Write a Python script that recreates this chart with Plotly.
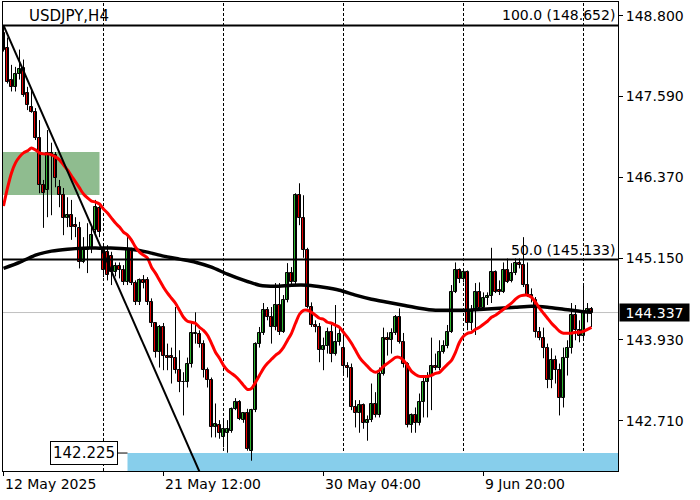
import plotly.graph_objects as go

SYMBOL = "USDJPY,H4"

OPEN = [148.54, 148.32, 147.84, 147.72, 147.93, 148.02, 147.63, 147.43, 147.35, 146.96,
        146.25, 146.18, 146.74, 146.71, 146.22, 146.10, 145.76, 145.80, 145.65, 145.61,
        145.09, 145.28, 145.31, 145.58, 145.91, 145.28, 145.25, 145.19, 144.94, 145.03,
        144.97, 144.79, 145.28, 144.78, 144.49, 144.82, 144.82, 144.49, 144.18, 143.74,
        144.12, 143.69, 143.68, 143.65, 143.47, 143.30, 143.29, 143.57, 144.01, 144.01,
        143.87, 143.47, 143.32, 142.61, 142.64, 142.46, 142.53, 142.56, 142.89, 142.99,
        142.72, 142.82, 142.26, 142.87, 143.87, 144.03, 144.37, 144.27, 144.12, 144.45,
        144.04, 144.52, 144.93, 144.79, 146.10, 145.76, 145.28, 144.42, 144.15, 144.12,
        143.77, 143.83, 144.04, 143.72, 143.89, 143.80, 143.54, 143.51, 142.91, 142.82,
        142.94, 142.67, 142.72, 142.96, 142.79, 143.42, 143.96, 143.92, 144.03, 144.27,
        143.89, 143.57, 142.64, 142.79, 142.67, 142.99, 143.29, 143.39, 143.54, 143.50,
        143.74, 143.84, 144.04, 144.64, 144.97, 144.84, 144.94, 144.18, 144.37, 144.64,
        144.40, 144.55, 144.58, 144.94, 144.67, 144.64, 144.97, 144.81, 144.93, 145.08,
        145.05, 144.75, 144.60, 144.52, 144.04, 143.96, 143.80, 143.32, 143.62, 143.47,
        143.05, 143.66, 143.80, 144.30, 144.07, 143.98, 144.34, 144.39]
HIGH = [148.652, 148.47, 148.06, 148.03, 148.29, 148.14, 147.73, 147.71, 147.41, 147.23,
        146.33, 147.08, 146.89, 146.75, 146.33, 146.21, 146.07, 146.03, 145.77, 145.70,
        145.47, 145.68, 145.62, 146.03, 145.98, 145.34, 145.35, 145.25, 145.09, 145.09,
        145.05, 145.47, 145.31, 144.82, 144.85, 144.90, 144.87, 144.55, 144.19, 144.15,
        144.18, 143.87, 143.81, 144.42, 143.77, 143.44, 143.66, 144.19, 144.34, 144.07,
        143.92, 143.51, 143.36, 142.97, 142.72, 142.72, 142.72, 142.91, 143.05, 143.02,
        142.83, 142.89, 142.89, 143.89, 144.12, 144.48, 144.42, 144.42, 144.78, 144.78,
        144.60, 145.08, 145.02, 146.13, 146.28, 146.10, 145.31, 144.49, 144.22, 144.18,
        143.96, 144.11, 144.15, 144.45, 144.10, 144.03, 143.59, 143.57, 143.02, 143.02,
        142.97, 142.79, 143.27, 143.14, 143.51, 144.11, 144.04, 144.10, 144.30, 144.40,
        144.03, 143.59, 142.82, 142.91, 143.12, 143.36, 143.44, 143.96, 143.72, 143.92,
        143.92, 144.15, 144.75, 145.09, 145.00, 145.00, 144.97, 144.45, 144.78, 144.79,
        144.64, 144.64, 145.31, 144.97, 144.82, 145.09, 145.15, 145.08, 145.15, 145.15,
        145.47, 145.09, 144.70, 144.57, 144.12, 144.11, 143.87, 143.80, 143.69, 143.57,
        143.81, 143.92, 144.48, 144.45, 144.22, 144.75, 144.48, 144.42]
LOW = [148.26, 147.78, 147.66, 147.66, 147.84, 147.58, 147.38, 147.34, 146.93, 146.13,
       145.61, 145.77, 145.80, 146.22, 145.92, 145.50, 145.62, 145.43, 145.47, 145.00,
       145.08, 144.93, 145.23, 145.53, 145.47, 144.87, 144.82, 144.75, 144.88, 144.85,
       144.75, 144.75, 144.75, 144.45, 144.45, 144.70, 144.45, 144.12, 143.66, 143.51,
       143.47, 143.47, 143.27, 143.42, 143.14, 142.79, 143.21, 143.51, 143.87, 143.81,
       143.36, 143.21, 142.46, 142.46, 142.44, 142.31, 142.23, 142.53, 142.87, 142.72,
       142.68, 142.26, 142.11, 142.84, 143.81, 144.00, 144.22, 143.87, 144.07, 144.00,
       144.03, 144.49, 144.75, 144.76, 145.65, 145.16, 144.40, 144.12, 144.04, 143.59,
       143.47, 143.72, 143.59, 143.69, 143.84, 143.42, 143.36, 142.87, 142.61, 142.53,
       142.59, 142.41, 142.69, 142.76, 142.76, 143.39, 143.69, 143.72, 144.00, 143.87,
       143.51, 142.61, 142.53, 142.53, 142.64, 142.76, 142.76, 142.87, 143.47, 143.47,
       143.72, 143.80, 144.03, 144.63, 144.78, 144.79, 144.07, 144.07, 144.00, 144.37,
       144.37, 144.45, 144.48, 144.63, 144.60, 144.63, 144.78, 144.79, 144.90, 145.00,
       144.72, 144.57, 144.49, 143.96, 143.92, 143.65, 143.20, 143.20, 143.27, 142.79,
       142.91, 143.39, 143.72, 143.92, 143.89, 143.92, 144.19, 144.12]
CLOSE = [148.29, 147.81, 147.72, 147.93, 148.00, 147.61, 147.46, 147.35, 146.96, 146.25,
         146.13, 146.74, 146.71, 146.36, 146.10, 145.76, 145.80, 145.62, 145.62, 145.09,
         145.28, 145.31, 145.50, 145.92, 145.55, 144.97, 144.90, 144.94, 145.03, 144.97,
         144.79, 145.28, 144.78, 144.49, 144.82, 144.78, 144.49, 144.18, 143.74, 144.12,
         143.69, 143.66, 143.65, 143.47, 143.29, 143.29, 143.57, 144.03, 144.03, 143.87,
         143.47, 143.32, 142.61, 142.66, 142.53, 142.58, 142.59, 142.89, 142.99, 142.74,
         142.82, 142.29, 142.87, 143.87, 144.03, 144.37, 144.27, 144.12, 144.45, 144.04,
         144.52, 144.93, 144.79, 146.10, 145.76, 145.28, 144.42, 144.15, 144.12, 143.77,
         143.83, 144.04, 143.72, 143.89, 144.01, 143.54, 143.51, 142.91, 142.82, 142.94,
         142.67, 142.72, 142.96, 142.79, 143.42, 143.96, 143.92, 144.03, 144.27, 143.89,
         143.57, 142.64, 142.79, 142.67, 142.99, 143.29, 143.39, 143.54, 143.50, 143.74,
         143.84, 144.04, 144.64, 144.97, 144.84, 144.94, 144.18, 144.37, 144.64, 144.40,
         144.55, 144.58, 144.94, 144.64, 144.64, 144.97, 144.79, 144.93, 145.08, 145.05,
         144.75, 144.60, 144.57, 144.04, 143.96, 143.80, 143.32, 143.62, 143.47, 143.05,
         143.66, 143.80, 144.30, 144.07, 143.98, 144.34, 144.39, 144.337]

# red moving average, one value per bar
MA_FAST = [145.938, 146.21, 146.435, 146.586, 146.677, 146.737, 146.767, 146.812, 146.782, 146.737,
           146.722, 146.722, 146.707, 146.677, 146.631, 146.556, 146.480, 146.39, 146.30, 146.21,
           146.119, 146.059, 146.013, 145.998, 145.968, 145.893, 145.833, 145.757, 145.682, 145.622,
           145.546, 145.501, 145.426, 145.32, 145.245, 145.20, 145.155, 145.019, 144.929, 144.823,
           144.718, 144.628, 144.552, 144.477, 144.371, 144.266, 144.206, 144.191, 144.176, 144.115,
           144.07, 143.995, 143.875, 143.739, 143.649, 143.543, 143.468, 143.423, 143.377, 143.317,
           143.242, 143.181, 143.196, 143.287, 143.393, 143.498, 143.573, 143.634, 143.694, 143.739,
           143.814, 143.92, 144.025, 144.176, 144.311, 144.371, 144.371, 144.341, 144.296, 144.251,
           144.236, 144.191, 144.176, 144.146, 144.115, 144.04, 143.965, 143.875, 143.769, 143.664,
           143.588, 143.528, 143.468, 143.438, 143.468, 143.528, 143.573, 143.618, 143.664, 143.664,
           143.618, 143.543, 143.453, 143.407, 143.377, 143.377, 143.377, 143.393, 143.423, 143.438,
           143.498, 143.558, 143.618, 143.739, 143.89, 143.98, 144.025, 144.04, 144.085, 144.115,
           144.161, 144.206, 144.266, 144.296, 144.341, 144.386, 144.432, 144.477, 144.537, 144.582,
           144.597, 144.597, 144.567, 144.492, 144.402, 144.326, 144.251, 144.176, 144.115, 144.055,
           144.025, 144.025, 144.025, 144.04, 144.04, 144.055, 144.085, 144.115]

# black moving average, read every 4 bars
MA_SLOW_BARS = [0, 4, 8, 12, 16, 20, 24, 28, 32, 36, 40, 44, 48, 52, 56, 60, 64, 68, 72,
                76, 80, 84, 88, 92, 96, 100, 104, 108, 112, 116, 120, 124, 128, 132, 136,
                140, 144, 147]
MA_SLOW = [145.00, 145.09, 145.20, 145.26, 145.29, 145.305, 145.305, 145.305, 145.29, 145.245,
           145.185, 145.14, 145.094, 145.019, 144.914, 144.823, 144.748, 144.733, 144.748,
           144.748, 144.718, 144.673, 144.598, 144.537, 144.492, 144.447, 144.402, 144.371,
           144.371, 144.371, 144.387, 144.402, 144.417, 144.432, 144.417, 144.387, 144.356,
           144.341]

TICK_BARS = [0, 40, 80, 120]
TICK_LABELS = ["12 May 2025", "21 May 12:00", "30 May 04:00", "9 Jun 20:00"]
Y_TICKS = [148.800, 147.590, 146.370, 145.150, 143.930, 142.710]
SEPARATOR_BARS = [25, 55, 85, 115, 145]

FIB_LEVELS = [100.0, 50.0]
FIB_PRICES = [148.652, 145.133]
TREND_BARS = [0, 48]
TREND_PRICES = [148.652, 142.08]
GREEN_ZONE_END_BAR = 24
GREEN_ZONE_PRICES = [146.104, 146.751]
BLUE_ZONE_START_BAR = 31
BLUE_ZONE_TOP = 142.225
LAST_PRICE = 144.337

FONT = "DejaVu Sans"
GREEN = "#2fb52f"
RED = "#e80000"

n = len(CLOSE)
idx = list(range(n))

fig = go.Figure()

wx, wy = [], []
for i in idx:
    wx += [i, i, None]
    wy += [LOW[i], HIGH[i], None]
fig.add_trace(go.Scatter(x=wx, y=wy, mode="lines", line=dict(color="black", width=1),
                         hoverinfo="skip", showlegend=False))

bases = [min(o, c) for o, c in zip(OPEN, CLOSE)]
heights = [max(abs(c - o), 0.006) for o, c in zip(OPEN, CLOSE)]
colors = [GREEN if c >= o else RED for o, c in zip(OPEN, CLOSE)]
fig.add_trace(go.Bar(x=idx, y=heights, base=bases, width=0.62,
                     marker=dict(color=colors, line=dict(color="black", width=1)),
                     hoverinfo="skip", showlegend=False))

fig.add_trace(go.Scatter(x=MA_SLOW_BARS, y=MA_SLOW, mode="lines",
                         line=dict(color="black", width=3.5, shape="spline", smoothing=0.6),
                         hoverinfo="skip", showlegend=False))
fig.add_trace(go.Scatter(x=idx, y=MA_FAST, mode="lines",
                         line=dict(color="#ff0000", width=3, shape="spline", smoothing=0.6),
                         hoverinfo="skip", showlegend=False))

shapes = []
shapes.append(dict(type="rect", xref="x", yref="y", x0=-5, x1=GREEN_ZONE_END_BAR,
                   y0=GREEN_ZONE_PRICES[0], y1=GREEN_ZONE_PRICES[1],
                   fillcolor="#8fbc8f", line=dict(width=0), layer="below"))
shapes.append(dict(type="rect", xref="x", yref="y", x0=BLUE_ZONE_START_BAR, x1=200,
                   y0=BLUE_ZONE_TOP - 2, y1=BLUE_ZONE_TOP,
                   fillcolor="#87ceeb", line=dict(width=0), layer="below"))
shapes.append(dict(type="line", xref="paper", yref="y", x0=0, x1=1, y0=LAST_PRICE, y1=LAST_PRICE,
                   line=dict(color="#c0c0c0", width=1), layer="below"))
for b in SEPARATOR_BARS:
    shapes.append(dict(type="line", xref="x", yref="paper", x0=b, x1=b, y0=0, y1=1,
                       line=dict(color="black", width=1, dash="3px,2px"), layer="below"))
for p in FIB_PRICES:
    shapes.append(dict(type="line", xref="paper", yref="y", x0=0, x1=1, y0=p, y1=p,
                       line=dict(color="black", width=2), layer="above"))
slope = (TREND_PRICES[1] - TREND_PRICES[0]) / (TREND_BARS[1] - TREND_BARS[0])
x_end = 60
shapes.append(dict(type="line", xref="x", yref="y", x0=TREND_BARS[0], y0=TREND_PRICES[0],
                   x1=x_end, y1=TREND_PRICES[0] + slope * (x_end - TREND_BARS[0]),
                   line=dict(color="black", width=2), layer="above"))
shapes.append(dict(type="line", xref="x", yref="y", xsizemode="pixel", xanchor=BLUE_ZONE_START_BAR,
                   x0=-10, x1=0, y0=BLUE_ZONE_TOP, y1=BLUE_ZONE_TOP,
                   line=dict(color="black", width=1), layer="above"))

ann = []
ann.append(dict(text=SYMBOL, xref="paper", yref="paper", x=0.039, y=1, xanchor="left",
                yanchor="top", yshift=-3, showarrow=False, font=dict(family=FONT, size=15, color="black")))
for lvl, p in zip(FIB_LEVELS, FIB_PRICES):
    ann.append(dict(text=f"{lvl:.1f} ({p:.3f})", xref="paper", yref="y", x=1, y=p,
                    xanchor="right", yanchor="bottom", xshift=-1, showarrow=False,
                    font=dict(family=FONT, size=14, color="black")))
for b, lab in zip(TICK_BARS, TICK_LABELS):
    ann.append(dict(text=lab, xref="x", yref="paper", x=b, y=0, xanchor="left", yanchor="top",
                    xshift=-1, yshift=-3, showarrow=False,
                    font=dict(family=FONT, size=14, color="black")))
ann.append(dict(text=f"{LAST_PRICE:.3f}", xref="paper", yref="y", x=1, y=LAST_PRICE,
                xanchor="left", yanchor="middle", xshift=1, showarrow=False,
                bgcolor="black", width=67, height=15, borderpad=1, align="center",
                font=dict(family=FONT, size=14, color="white")))
ann.append(dict(text=f"{BLUE_ZONE_TOP:.3f}", xref="x", yref="y", x=BLUE_ZONE_START_BAR,
                y=BLUE_ZONE_TOP, xanchor="right", yanchor="middle", xshift=-10, showarrow=False,
                bgcolor="white", bordercolor="black", borderwidth=1, borderpad=2,
                font=dict(family=FONT, size=15, color="black")))

fig.update_layout(
    width=700, height=500,
    margin=dict(l=3, r=82, t=2, b=29),
    paper_bgcolor="white", plot_bgcolor="white",
    showlegend=False, bargap=0,
    shapes=shapes, annotations=ann,
    font=dict(family=FONT, size=14, color="black"),
    xaxis=dict(range=[-0.125, 153.625], showgrid=False, zeroline=False,
               showline=True, linecolor="black", linewidth=1, mirror=True,
               tickmode="array", tickvals=TICK_BARS, ticktext=["" for _ in TICK_BARS],
               ticks="outside", ticklen=4, tickcolor="black"),
    yaxis=dict(range=[141.955, 149.005], side="right", showgrid=False, zeroline=False,
               showline=True, linecolor="black", linewidth=1, mirror=True,
               tickmode="array", tickvals=Y_TICKS, ticktext=[f"{v:.3f}" for v in Y_TICKS],
               ticks="outside", ticklen=4, tickcolor="black",
               tickfont=dict(family=FONT, size=14, color="black")),
)

fig.write_html("out.html", config={"displayModeBar": False},
               post_script="document.body.style.margin='0';")
